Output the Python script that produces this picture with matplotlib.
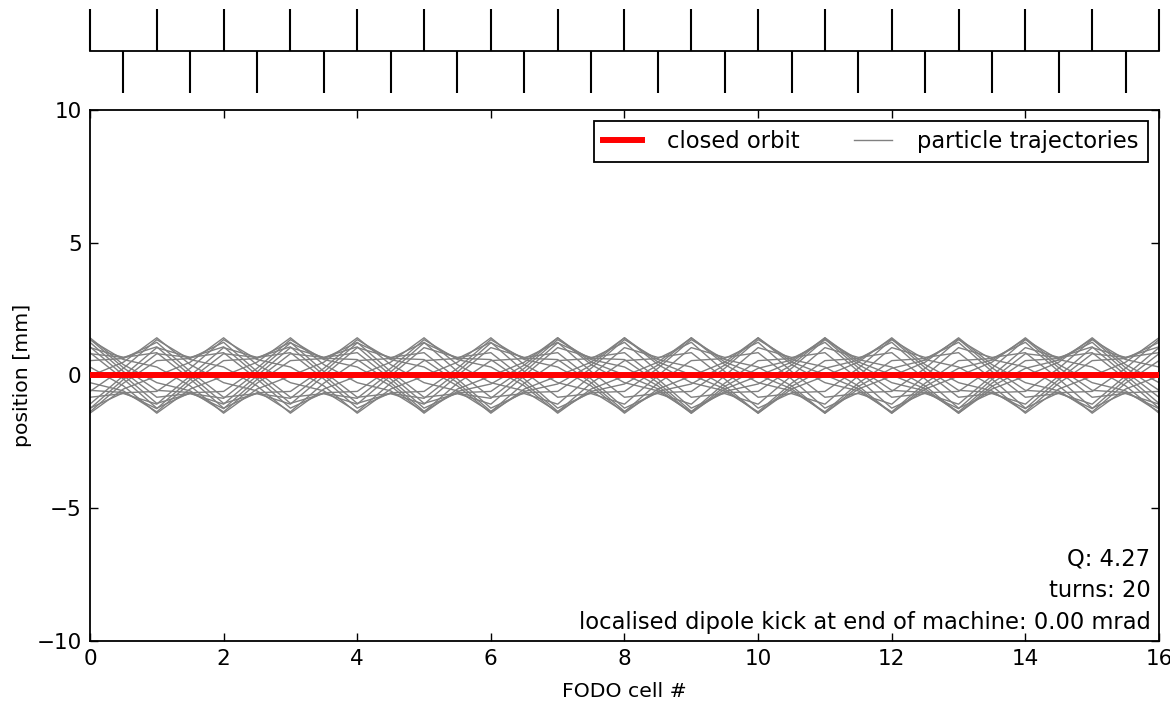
import matplotlib
matplotlib.use("Agg")
import matplotlib.pyplot as plt

# quadrupole positions along the ring (in FODO cells)
focusing_quads = [0, 1, 2, 3, 4, 5, 6, 7, 8, 9, 10, 11, 12, 13, 14, 15, 16]
defocusing_quads = [0.5, 1.5, 2.5, 3.5, 4.5, 5.5, 6.5, 7.5, 8.5, 9.5, 10.5,
                    11.5, 12.5, 13.5, 14.5, 15.5]

# trajectory sample points (at every quad)
cell_pos = [0, 0.5, 1, 1.5, 2, 2.5, 3, 3.5, 4, 4.5, 5, 5.5, 6, 6.5, 7, 7.5, 8,
            8.5, 9, 9.5, 10, 10.5, 11, 11.5, 12, 12.5, 13, 13.5, 14, 14.5, 15,
            15.5, 16]

closed_orbit = [0.0] * 33

# particle position [mm] at each quad, one list per turn
turns = [
    [1.42, 0.41, -0.27, -0.58, -1.37, -0.29, 0.56, 0.64, 1.25, 0.15, -0.82, -0.68, -1.08, -0.01, 1.05, 0.68, 0.86,
     -0.13, -1.23, -0.65, -0.60, 0.27, 1.35, 0.60, 0.32, -0.39, -1.42, -0.51, -0.02, 0.50, 1.42, 0.41, -0.27],
    [-0.27, -0.58, -1.37, -0.29, 0.56, 0.64, 1.25, 0.15, -0.82, -0.68, -1.08, -0.01, 1.05, 0.68, 0.86, -0.13, -1.23,
     -0.65, -0.60, 0.27, 1.35, 0.60, 0.32, -0.39, -1.42, -0.51, -0.02, 0.50, 1.42, 0.41, -0.27, -0.58, -1.37],
    [-1.37, -0.29, 0.56, 0.64, 1.25, 0.15, -0.82, -0.68, -1.08, -0.01, 1.05, 0.68, 0.86, -0.13, -1.23, -0.65, -0.60,
     0.27, 1.35, 0.60, 0.32, -0.39, -1.42, -0.51, -0.02, 0.50, 1.42, 0.41, -0.27, -0.58, -1.37, -0.29, 0.56],
    [0.56, 0.64, 1.25, 0.15, -0.82, -0.68, -1.08, -0.01, 1.05, 0.68, 0.86, -0.13, -1.23, -0.65, -0.60, 0.27, 1.35,
     0.60, 0.32, -0.39, -1.42, -0.51, -0.02, 0.50, 1.42, 0.41, -0.27, -0.58, -1.37, -0.29, 0.56, 0.64, 1.25],
    [1.25, 0.15, -0.82, -0.68, -1.08, -0.01, 1.05, 0.68, 0.86, -0.13, -1.23, -0.65, -0.60, 0.27, 1.35, 0.60, 0.32,
     -0.39, -1.42, -0.51, -0.02, 0.50, 1.42, 0.41, -0.27, -0.58, -1.37, -0.29, 0.56, 0.64, 1.25, 0.15, -0.82],
    [-0.82, -0.68, -1.08, -0.01, 1.05, 0.68, 0.86, -0.13, -1.23, -0.65, -0.60, 0.27, 1.35, 0.60, 0.32, -0.39, -1.42,
     -0.51, -0.02, 0.50, 1.42, 0.41, -0.27, -0.58, -1.37, -0.29, 0.56, 0.64, 1.25, 0.15, -0.82, -0.68, -1.08],
    [-1.08, -0.01, 1.05, 0.68, 0.86, -0.13, -1.23, -0.65, -0.60, 0.27, 1.35, 0.60, 0.32, -0.39, -1.42, -0.51, -0.02,
     0.50, 1.42, 0.41, -0.27, -0.58, -1.37, -0.29, 0.56, 0.64, 1.25, 0.15, -0.82, -0.68, -1.08, -0.01, 1.05],
    [1.05, 0.68, 0.86, -0.13, -1.23, -0.65, -0.60, 0.27, 1.35, 0.60, 0.32, -0.39, -1.42, -0.51, -0.02, 0.50, 1.42,
     0.41, -0.27, -0.58, -1.37, -0.29, 0.56, 0.64, 1.25, 0.15, -0.82, -0.68, -1.08, -0.01, 1.05, 0.68, 0.86],
    [0.86, -0.13, -1.23, -0.65, -0.60, 0.27, 1.35, 0.60, 0.32, -0.39, -1.42, -0.51, -0.02, 0.50, 1.42, 0.41, -0.27,
     -0.58, -1.37, -0.29, 0.56, 0.64, 1.25, 0.15, -0.82, -0.68, -1.08, -0.01, 1.05, 0.68, 0.86, -0.13, -1.23],
    [-1.23, -0.65, -0.60, 0.27, 1.35, 0.60, 0.32, -0.39, -1.42, -0.51, -0.02, 0.50, 1.42, 0.41, -0.27, -0.58, -1.37,
     -0.29, 0.56, 0.64, 1.25, 0.15, -0.82, -0.68, -1.08, -0.01, 1.05, 0.68, 0.86, -0.13, -1.23, -0.65, -0.60],
    [-0.60, 0.27, 1.35, 0.60, 0.32, -0.39, -1.42, -0.51, -0.02, 0.50, 1.42, 0.41, -0.27, -0.58, -1.37, -0.29, 0.56,
     0.64, 1.25, 0.15, -0.82, -0.68, -1.08, -0.01, 1.05, 0.68, 0.86, -0.13, -1.23, -0.65, -0.60, 0.27, 1.35],
    [1.35, 0.60, 0.32, -0.39, -1.42, -0.51, -0.02, 0.50, 1.42, 0.41, -0.27, -0.58, -1.37, -0.29, 0.56, 0.64, 1.25,
     0.15, -0.82, -0.68, -1.08, -0.01, 1.05, 0.68, 0.86, -0.13, -1.23, -0.65, -0.60, 0.27, 1.35, 0.60, 0.32],
    [0.32, -0.39, -1.42, -0.51, -0.02, 0.50, 1.42, 0.41, -0.27, -0.58, -1.37, -0.29, 0.56, 0.64, 1.25, 0.15, -0.82,
     -0.68, -1.08, -0.01, 1.05, 0.68, 0.86, -0.13, -1.23, -0.65, -0.60, 0.27, 1.35, 0.60, 0.32, -0.39, -1.42],
    [-1.42, -0.51, -0.02, 0.50, 1.42, 0.41, -0.27, -0.58, -1.37, -0.29, 0.56, 0.64, 1.25, 0.15, -0.82, -0.68, -1.08,
     -0.01, 1.05, 0.68, 0.86, -0.13, -1.23, -0.65, -0.60, 0.27, 1.35, 0.60, 0.32, -0.39, -1.42, -0.51, -0.02],
    [-0.02, 0.50, 1.42, 0.41, -0.27, -0.58, -1.37, -0.29, 0.56, 0.64, 1.25, 0.15, -0.82, -0.68, -1.08, -0.01, 1.05,
     0.68, 0.86, -0.13, -1.23, -0.65, -0.60, 0.27, 1.35, 0.60, 0.32, -0.39, -1.42, -0.51, -0.02, 0.50, 1.42],
    [1.37, 0.29, -0.56, -0.64, -1.25, -0.15, 0.82, 0.68, 1.08, 0.01, -1.05, -0.68, -0.86, 0.13, 1.23, 0.65, 0.60,
     -0.27, -1.35, -0.60, -0.32, 0.39, 1.42, 0.51, 0.02, -0.50, -1.42, -0.41, 0.27, 0.58, 1.37, 0.29, -0.56],
    [-0.56, -0.64, -1.25, -0.15, 0.82, 0.68, 1.08, 0.01, -1.05, -0.68, -0.86, 0.13, 1.23, 0.65, 0.60, -0.27, -1.35,
     -0.60, -0.32, 0.39, 1.42, 0.51, 0.02, -0.50, -1.42, -0.41, 0.27, 0.58, 1.37, 0.29, -0.56, -0.64, -1.25],
    [-1.25, -0.15, 0.82, 0.68, 1.08, 0.01, -1.05, -0.68, -0.86, 0.13, 1.23, 0.65, 0.60, -0.27, -1.35, -0.60, -0.32,
     0.39, 1.42, 0.51, 0.02, -0.50, -1.42, -0.41, 0.27, 0.58, 1.37, 0.29, -0.56, -0.64, -1.25, -0.15, 0.82],
    [0.82, 0.68, 1.08, 0.01, -1.05, -0.68, -0.86, 0.13, 1.23, 0.65, 0.60, -0.27, -1.35, -0.60, -0.32, 0.39, 1.42,
     0.51, 0.02, -0.50, -1.42, -0.41, 0.27, 0.58, 1.37, 0.29, -0.56, -0.64, -1.25, -0.15, 0.82, 0.68, 1.08],
    [1.08, 0.01, -1.05, -0.68, -0.86, 0.13, 1.23, 0.65, 0.60, -0.27, -1.35, -0.60, -0.32, 0.39, 1.42, 0.51, 0.02,
     -0.50, -1.42, -0.41, 0.27, 0.58, 1.37, 0.29, -0.56, -0.64, -1.25, -0.15, 0.82, 0.68, 1.08, 0.01, -1.05],
]

info_lines = ["Q: 4.27", "turns: 20",
              "localised dipole kick at end of machine: 0.00 mrad"]

FS = 16.3
FS_TICK = 15.5
FS_LABEL = 14.7
plt.rcParams["font.family"] = "DejaVu Sans"
plt.rcParams["font.size"] = FS

fig = plt.figure(figsize=(11.7, 7.01), dpi=100, facecolor="white")

# lattice sketch on top
ax_lat = fig.add_axes([0.0769, 0.8673, 0.9137, 0.1199])
ax_lat.set_xlim(0, 16)
ax_lat.set_ylim(-1, 1)
ax_lat.axis("off")
ax_lat.plot([0, 16], [0, 0], color="black", lw=1.3, clip_on=False)
ax_lat.vlines(focusing_quads, 0, 1, color="black", lw=1.5, clip_on=False)
ax_lat.vlines(defocusing_quads, -1, 0, color="black", lw=1.5, clip_on=False)

# main plot
ax = fig.add_axes([0.0769, 0.0856, 0.9137, 0.7575])
for i, tr in enumerate(turns):
    ax.plot(cell_pos, tr, color="gray", lw=1.0,
            label="particle trajectories" if i == 0 else None, zorder=2)
ax.plot(cell_pos, closed_orbit, color="red", lw=4.3, label="closed orbit", zorder=3)

ax.set_xlim(0, 16)
ax.set_ylim(-10, 10)
ax.set_xticks([0, 2, 4, 6, 8, 10, 12, 14, 16])
ax.set_yticks([-10, -5, 0, 5, 10])
ax.tick_params(direction="in", top=True, right=True, length=6, width=1,
               labelsize=FS_TICK, pad=6)
for sp in ax.spines.values():
    sp.set_linewidth(1.3)
ax.set_xlabel("FODO cell #", fontsize=FS_LABEL, labelpad=9)
ax.set_ylabel("position [mm]", fontsize=FS_LABEL, labelpad=3)

handles, labels = ax.get_legend_handles_labels()
order = [labels.index("closed orbit"), labels.index("particle trajectories")]
leg = ax.legend([handles[o] for o in order], [labels[o] for o in order],
                loc="upper right", ncol=2, fontsize=FS, fancybox=False,
                edgecolor="black", framealpha=1, handlelength=1.7,
                handletextpad=1.1, columnspacing=2.4, borderaxespad=0.5)
leg.get_frame().set_linewidth(1.3)

ax.text(0.992, 0.014, "\n".join(info_lines), transform=ax.transAxes,
        ha="right", va="bottom", fontsize=FS, linespacing=1.48)

fig.savefig("out.png", dpi=100, facecolor="white")
